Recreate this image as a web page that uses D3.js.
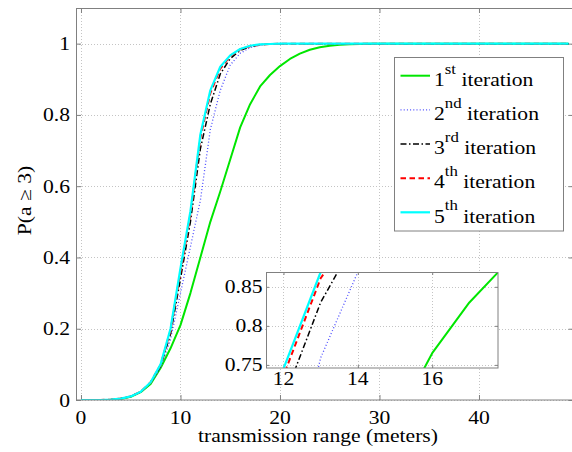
<!DOCTYPE html>
<html><head><meta charset="utf-8">
<script src="https://cdn.jsdelivr.net/npm/d3@7"></script>
<style>body{margin:0;background:#fff}svg{display:block}</style>
</head><body><svg id="c" width="572" height="452"></svg>
<script>
// ---------- data ----------
const rangeM = [0,1,2,3,4,5,6,7,8,9,10,11,12,13,14,15,16,17,18,19,20,21,22,23,24,25,26,27,28,29,30,31,32,33,34,35,36,37,38,39,40,41,42,43,44,45,46,47,48,49];
const iter1 = [0,0,0,0.001,0.003,0.009,0.022,0.045,0.09,0.145,0.21,0.30,0.40,0.50,0.585,0.675,0.765,0.83,0.88,0.912,0.937,0.957,0.972,0.983,0.99,0.994,0.997,0.998,0.999,1,1,1,1,1,1,1,1,1,1,1,1,1,1,1,1,1,1,1,1,1];
const iter2 = [0,0,0,0.001,0.004,0.01,0.022,0.047,0.09,0.17,0.30,0.43,0.56,0.759,0.869,0.94,0.973,0.989,0.996,0.999,1,1,1,1,1,1,1,1,1,1,1,1,1,1,1,1,1,1,1,1,1,1,1,1,1,1,1,1,1,1];
const iter3 = [0,0,0,0.001,0.004,0.01,0.023,0.049,0.095,0.185,0.34,0.50,0.705,0.83,0.915,0.958,0.981,0.992,0.997,0.999,1,1,1,1,1,1,1,1,1,1,1,1,1,1,1,1,1,1,1,1,1,1,1,1,1,1,1,1,1,1];
const iter4 = [0,0,0,0.001,0.004,0.01,0.023,0.05,0.098,0.195,0.36,0.52,0.736,0.861,0.93,0.965,0.984,0.993,0.997,0.999,1,1,1,1,1,1,1,1,1,1,1,1,1,1,1,1,1,1,1,1,1,1,1,1,1,1,1,1,1,1];
const iter5 = [0,0,0,0.001,0.004,0.01,0.023,0.05,0.10,0.20,0.37,0.53,0.745,0.869,0.935,0.967,0.985,0.994,0.998,0.999,1,1,1,1,1,1,1,1,1,1,1,1,1,1,1,1,1,1,1,1,1,1,1,1,1,1,1,1,1,1];
const legendNums = ["1","2","3","4","5"];
const legendSups = ["st","nd","rd","th","th"];
const legendWord = "iteration";
const xTicks = [0,10,20,30,40];
const yTicks = [0,0.2,0.4,0.6,0.8,1];
const yTickLabels = ["0","0.2","0.4","0.6","0.8","1"];
const insetXTicks = [12,14,16];
const insetYTicks = [0.75,0.8,0.85];
const insetYTickLabels = ["0.75","0.8","0.85"];
const xLabel = "transmission range (meters)";
const yLabel = "P(a \u2265 3)";

// ---------- styles ----------
const seriesList = [iter1, iter2, iter3, iter4, iter5];
const styles = [
  {color:"#00e600", width:2,   dash:null},
  {color:"#4b4bff", width:1.3, dash:"1,2.2"},
  {color:"#000000", width:1.5, dash:"6,2.5,1.5,2.5"},
  {color:"#ff0000", width:2,   dash:"5.5,3.5"},
  {color:"#00ffff", width:2.2, dash:null}
];
const FONT = "'Liberation Serif'";
const FS = 18;
const SX = 1.2;
const axisColor = "#808080";
const gridColor = "#c4c4c4";

const svg = d3.select("#c");
svg.append("rect").attr("width",572).attr("height",452).attr("fill","#fff");

function label(g, x, y, str, anchor, size, rot){
  const tg = g.append("g").attr("transform",`translate(${x},${y})${rot?` rotate(${rot})`:""} scale(${SX},1)`);
  return tg.append("text").attr("text-anchor",anchor)
    .style("font-family",FONT)
    .attr("font-size",size).attr("fill","#000").text(str);
}

function drawAxes(g, x, y, xt, yt, tickLen){
  const [x0,x1] = x.range(), [y0,y1] = y.range();
  const grid = g.append("g").attr("stroke",gridColor).attr("stroke-width",1)
    .attr("stroke-dasharray","1,2").attr("shape-rendering","crispEdges");
  xt.forEach(v=>grid.append("line").attr("x1",Math.round(x(v))+0.5).attr("x2",Math.round(x(v))+0.5).attr("y1",y0).attr("y2",y1));
  yt.forEach(v=>grid.append("line").attr("y1",Math.round(y(v))+0.5).attr("y2",Math.round(y(v))+0.5).attr("x1",x0).attr("x2",x1));
  const mk = (ax, tr) => {
    const a = g.append("g").attr("transform",tr).call(ax);
    a.select(".domain").remove();
    a.selectAll("line").attr("stroke",axisColor);
    a.selectAll("text").remove();
  };
  mk(d3.axisBottom(x).tickValues(xt).tickSize(-tickLen).tickFormat(""), `translate(0,${y0})`);
  mk(d3.axisTop(x).tickValues(xt).tickSize(-tickLen).tickFormat(""), `translate(0,${y1})`);
  mk(d3.axisLeft(y).tickValues(yt).tickSize(-tickLen).tickFormat(""), `translate(${x0},0)`);
  mk(d3.axisRight(y).tickValues(yt).tickSize(-tickLen).tickFormat(""), `translate(${x1},0)`);
}

function drawSeries(g, x, y, clipId){
  const line = d3.line().x((d,i)=>x(rangeM[i])).y(d=>y(d));
  const lg = g.append("g").attr("clip-path",`url(#${clipId})`);
  seriesList.forEach((s,k)=>{
    const st = styles[k];
    lg.append("path").datum(s).attr("d",line).attr("fill","none")
      .attr("stroke",st.color).attr("stroke-width",st.width)
      .attr("stroke-dasharray",st.dash).attr("stroke-linejoin","round");
  });
}

const defs = svg.append("defs");

// ---------- main axes ----------
const x = d3.scaleLinear().domain([-0.5,49.5]).range([76,573.5]);
const y = d3.scaleLinear().domain([0,1.1]).range([400,8]);
defs.append("clipPath").attr("id","clipMain").append("rect")
  .attr("x",76).attr("y",8).attr("width",497.5).attr("height",392);
const main = svg.append("g");
drawAxes(main, x, y, xTicks, yTicks, 5);
drawSeries(main, x, y, "clipMain");
main.append("rect").attr("x",76.5).attr("y",8.5).attr("width",497).attr("height",391.5)
  .attr("fill","none").attr("stroke",axisColor).attr("stroke-width",1);
xTicks.forEach(v=>label(main, x(v), 423.5, String(v), "middle", FS));
yTicks.forEach((v,i)=>label(main, 70, y(v)+6.5, yTickLabels[i], "end", FS));
label(main, 318, 442, xLabel, "middle", FS);
label(main, 30.5, 200.5, yLabel, "middle", FS, -90);

// ---------- legend ----------
const leg = svg.append("g");
leg.append("rect").attr("x",394.5).attr("y",57.5).attr("width",169).attr("height",173.5)
  .attr("fill","#fff").attr("stroke",axisColor).attr("stroke-width",1);
legendNums.forEach((n,i)=>{
  const ly = 75.7 + i*34.15;
  const st = styles[i];
  leg.append("line").attr("x1",400.5).attr("x2",430).attr("y1",ly).attr("y2",ly)
    .attr("stroke",st.color).attr("stroke-width",st.width).attr("stroke-dasharray",st.dash);
  const t = label(leg, 434, ly+10.3, "", "start", FS);
  t.append("tspan").text(n);
  t.append("tspan").attr("font-size",14).attr("dy",-12.5).text(legendSups[i]);
  t.append("tspan").attr("dy",12.5).text("\u00a0"+legendWord);
});

// ---------- inset ----------
const xi = d3.scaleLinear().domain([11.53,17.77]).range([266,498]);
const yi = d3.scaleLinear().domain([0.746,0.869]).range([368,272]);
defs.append("clipPath").attr("id","clipInset").append("rect")
  .attr("x",266).attr("y",272).attr("width",232).attr("height",96);
const ins = svg.append("g");
ins.append("rect").attr("x",266).attr("y",272).attr("width",232).attr("height",96).attr("fill","#fff");
drawAxes(ins, xi, yi, insetXTicks, insetYTicks, 3);
drawSeries(ins, xi, yi, "clipInset");
ins.append("rect").attr("x",266.5).attr("y",272.5).attr("width",231.5).attr("height",95.5)
  .attr("fill","none").attr("stroke",axisColor).attr("stroke-width",1);
insetXTicks.forEach(v=>label(ins, xi(v), 385, String(v), "middle", FS));
insetYTicks.forEach((v,i)=>label(ins, 262.5, yi(v)+6, insetYTickLabels[i], "end", FS));
</script></body></html>
